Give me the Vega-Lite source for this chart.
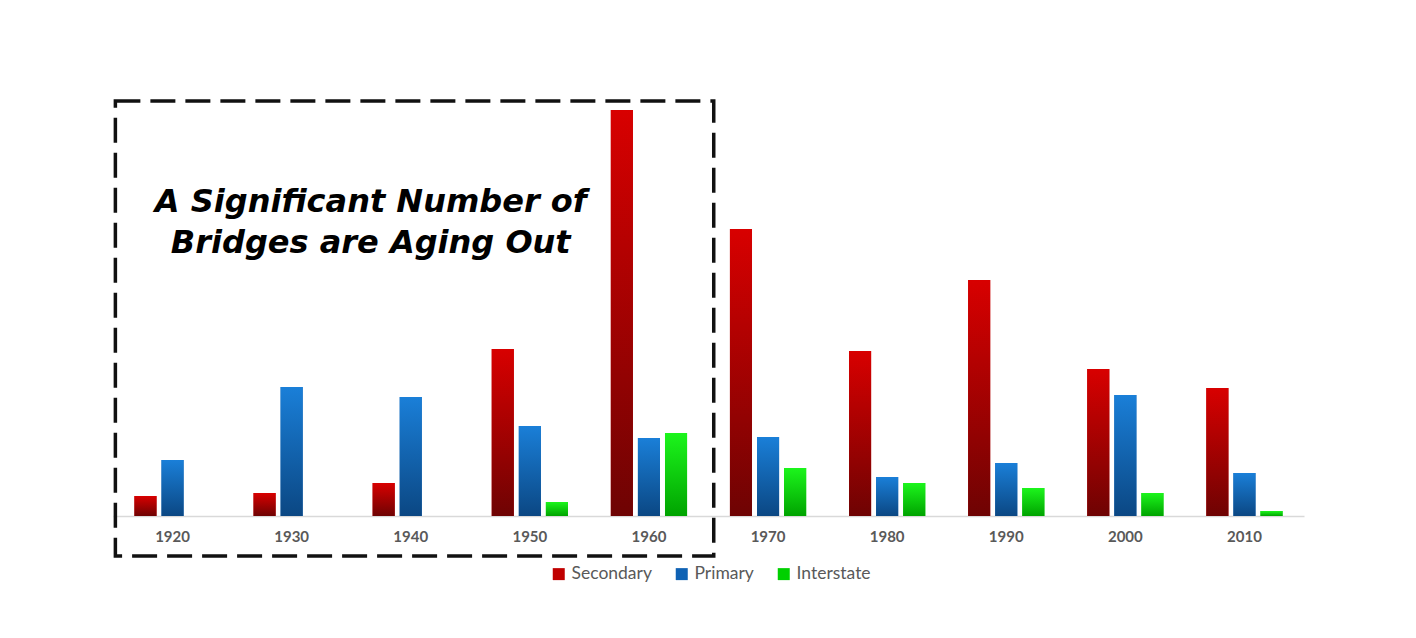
{
  "$schema": "https://vega.github.io/schema/vega-lite/v6.json",
  "width": 1191,
  "height": 406,
  "autosize": {"type": "none"},
  "padding": {"left": 113, "top": 110, "right": 112, "bottom": 122},
  "background": "white",
  "config": {"view": {"stroke": null}, "font": "Lato"},
  "datasets": {
    "bridges": [
      {"decade": 1920, "type": "Secondary", "value": 20},
      {"decade": 1920, "type": "Primary", "value": 56},
      {"decade": 1930, "type": "Secondary", "value": 23},
      {"decade": 1930, "type": "Primary", "value": 129},
      {"decade": 1940, "type": "Secondary", "value": 33},
      {"decade": 1940, "type": "Primary", "value": 119},
      {"decade": 1950, "type": "Secondary", "value": 167},
      {"decade": 1950, "type": "Primary", "value": 90},
      {"decade": 1950, "type": "Interstate", "value": 14},
      {"decade": 1960, "type": "Secondary", "value": 406},
      {"decade": 1960, "type": "Primary", "value": 78},
      {"decade": 1960, "type": "Interstate", "value": 83},
      {"decade": 1970, "type": "Secondary", "value": 287},
      {"decade": 1970, "type": "Primary", "value": 79},
      {"decade": 1970, "type": "Interstate", "value": 48},
      {"decade": 1980, "type": "Secondary", "value": 165},
      {"decade": 1980, "type": "Primary", "value": 39},
      {"decade": 1980, "type": "Interstate", "value": 33},
      {"decade": 1990, "type": "Secondary", "value": 236},
      {"decade": 1990, "type": "Primary", "value": 53},
      {"decade": 1990, "type": "Interstate", "value": 28},
      {"decade": 2000, "type": "Secondary", "value": 147},
      {"decade": 2000, "type": "Primary", "value": 121},
      {"decade": 2000, "type": "Interstate", "value": 23},
      {"decade": 2010, "type": "Secondary", "value": 128},
      {"decade": 2010, "type": "Primary", "value": 43},
      {"decade": 2010, "type": "Interstate", "value": 5}
    ],
    "box": [{"label": "box"}],
    "note": [{"label": "A Significant Number of\nBridges are Aging Out"}]
  },
  "layer": [
    {
      "data": {"name": "bridges"},
      "encoding": {
        "x": {
          "field": "decade",
          "type": "ordinal",
          "title": null,
          "scale": {"paddingInner": 0.36, "paddingOuter": 0.18},
          "axis": {
            "labelAngle": 0,
            "ticks": false,
            "domainColor": "#d9d9d9",
            "domainWidth": 1.5,
            "labelColor": "#595959",
            "labelFontSize": 15,
            "labelFontWeight": "bold",
            "labelPadding": 13,
            "labelFont": "Lato"
          }
        },
        "xOffset": {
          "field": "type",
          "scale": {"domain": ["Secondary", "Primary", "Interstate"], "paddingInner": 0.185, "paddingOuter": 0}
        },
        "y": {
          "field": "value",
          "type": "quantitative",
          "scale": {"domain": [0, 406]},
          "axis": null
        }
      },
      "layer": [
        {
          "mark": {"type": "bar"},
          "encoding": {
            "color": {
              "field": "type",
              "type": "nominal",
              "scale": {
                "domain": ["Secondary", "Primary", "Interstate"],
                "range": ["#c00000", "#0f62b4", "#00d000"]
              },
              "legend": {
                "title": null,
                "orient": "none",
                "legendX": 437,
                "legendY": 455,
                "direction": "horizontal",
                "symbolType": "square",
                "symbolSize": 144,
                "symbolStrokeWidth": 0,
                "symbolOpacity": 1,
                "labelFontSize": 17.5,
                "labelColor": "#595959",
                "labelFont": "Lato",
                "labelOffset": 4,
                "columnPadding": 21
              }
            }
          }
        },
        {
          "transform": [{"filter": "datum.type === 'Secondary'"}],
          "mark": {"type": "bar", "fill": {"gradient": "linear", "x1": 0, "y1": 0, "x2": 0, "y2": 1, "stops": [{"offset": 0, "color": "#d80000"}, {"offset": 1, "color": "#6e0303"}]}}
        },
        {
          "transform": [{"filter": "datum.type === 'Primary'"}],
          "mark": {"type": "bar", "fill": {"gradient": "linear", "x1": 0, "y1": 0, "x2": 0, "y2": 1, "stops": [{"offset": 0, "color": "#1a7fd8"}, {"offset": 1, "color": "#0b4783"}]}}
        },
        {
          "transform": [{"filter": "datum.type === 'Interstate'"}],
          "mark": {"type": "bar", "fill": {"gradient": "linear", "x1": 0, "y1": 0, "x2": 0, "y2": 1, "stops": [{"offset": 0, "color": "#1cf51c"}, {"offset": 1, "color": "#00a300"}]}}
        }
      ]
    },
    {
      "data": {"name": "box"},
      "mark": {"type": "rect", "filled": false, "stroke": "#111111", "strokeWidth": 3.5, "strokeDash": [25, 10]},
      "encoding": {
        "x": {"datum": 1920, "type": "ordinal", "bandPosition": -0.25},
        "x2": {"datum": 1960, "bandPosition": 1.35},
        "y": {"datum": 415, "type": "quantitative", "scale": {"domain": [0, 406]}},
        "y2": {"datum": -40}
      }
    },
    {
      "data": {"name": "note"},
      "mark": {"type": "text", "lineBreak": "\n", "font": "DejaVu Sans", "fontSize": 32, "fontWeight": "bold", "fontStyle": "italic", "align": "center", "baseline": "middle", "lineHeight": 41, "dx": -40, "color": "#000000"},
      "encoding": {
        "x": {"datum": 1940, "type": "ordinal"},
        "y": {"datum": 314, "type": "quantitative", "scale": {"domain": [0, 406]}},
        "text": {"field": "label"}
      }
    }
  ]
}
